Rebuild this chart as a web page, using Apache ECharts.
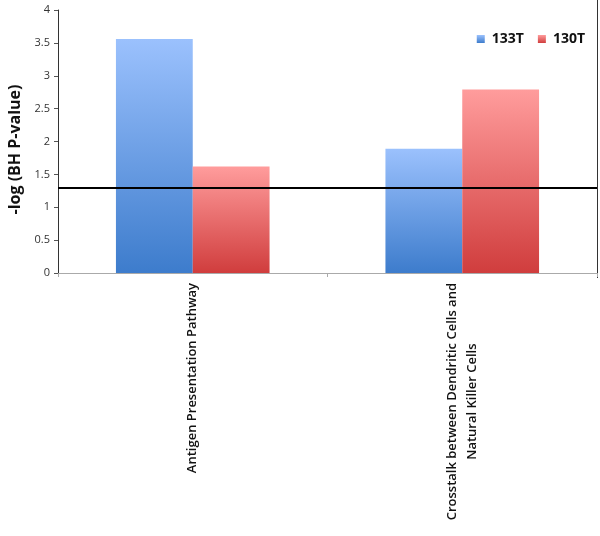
<!DOCTYPE html>
<html>
<head>
<meta charset="utf-8">
<script src="https://cdn.jsdelivr.net/npm/echarts@6/dist/echarts.min.js"></script>
<style>
  html, body { margin: 0; padding: 0; background: #fff; }
  #chart { width: 600px; height: 536px; }
</style>
</head>
<body>
<div id="chart"></div>
<script>
// data
const categories = [
  'Antigen Presentation Pathway',
  'Crosstalk between Dendritic Cells and\nNatural Killer Cells'
];
const seriesNames = ['133T', '130T'];
const values133T = [3.56, 1.89];
const values130T = [1.62, 2.79];
const threshold = 1.3;
const yTicks = [0, 0.5, 1, 1.5, 2, 2.5, 3, 3.5, 4];

const chart = echarts.init(document.getElementById('chart'));

// vertical gradient per bar, light at top
function grad(top, bottom) {
  return new echarts.graphic.LinearGradient(0, 0, 0, 1, [
    { offset: 0, color: top },
    { offset: 1, color: bottom }
  ]);
}
const blue = grad('#9bc1fd', '#3d7ccc');
const red = grad('#ff9c9c', '#d03d3d');

chart.setOption({
  animation: false,
  textStyle: { fontFamily: 'Open Sans, Liberation Sans, sans-serif' },
  grid: { left: 58, right: 3, top: 10, bottom: 263, outerBoundsMode: 'none' },
  legend: {
    data: seriesNames,
    top: 27,
    right: 10,
    icon: 'rect',
    itemWidth: 8,
    itemHeight: 8,
    itemGap: 14,
    textStyle: { fontSize: 14, fontWeight: 'bold', color: '#111', padding: [0, 0, 0, 2] }
  },
  xAxis: {
    type: 'category',
    data: categories,
    axisLine: { lineStyle: { color: '#aaa', width: 1 } },
    axisTick: { show: true, length: 4, lineStyle: { color: '#aaa' } },
    axisLabel: {
      rotate: 90,
      margin: 10,
      interval: 0,
      formatter: (v) => '{t|' + v.split('\n').join('}\n{t|') + '}',
      rich: {
        t: { fontSize: 13, fontWeight: 600, color: '#111', align: 'center', lineHeight: 20,
             fontFamily: 'Open Sans, Liberation Sans, sans-serif' }
      }
    }
  },
  yAxis: {
    type: 'value',
    min: 0,
    max: 4,
    interval: 0.5,
    name: '-log (BH P-value)',
    nameLocation: 'middle',
    nameGap: 35,
    nameTextStyle: { fontSize: 16, fontWeight: 'bold', color: '#111', padding: [0, 16, 0, 0] },
    axisLine: { show: true, lineStyle: { color: '#333' } },
    axisTick: { show: true, length: 4, lineStyle: { color: '#555' } },
    axisLabel: { fontSize: 11, color: '#333', margin: 8,
      formatter: (v) => yTicks.includes(v) ? String(v) : '' },
    splitLine: { show: false }
  },
  series: [
    {
      name: seriesNames[0],
      type: 'bar',
      data: values133T,
      itemStyle: { color: blue },
      barGap: '0%',
      barCategoryGap: '43%',
      markLine: {
        silent: true,
        symbol: 'none',
        label: { show: false },
        lineStyle: { color: '#000', width: 2, type: 'solid' },
        data: [{ yAxis: threshold }]
      }
    },
    {
      name: seriesNames[1],
      type: 'bar',
      data: values130T,
      itemStyle: { color: red },
      barGap: '0%',
      barCategoryGap: '43%'
    }
  ],
  graphic: [
    { type: 'line', shape: { x1: 597.5, y1: 0, x2: 597.5, y2: 278 },
      style: { stroke: '#333', lineWidth: 1 } }
  ]
});
</script>
</body>
</html>
